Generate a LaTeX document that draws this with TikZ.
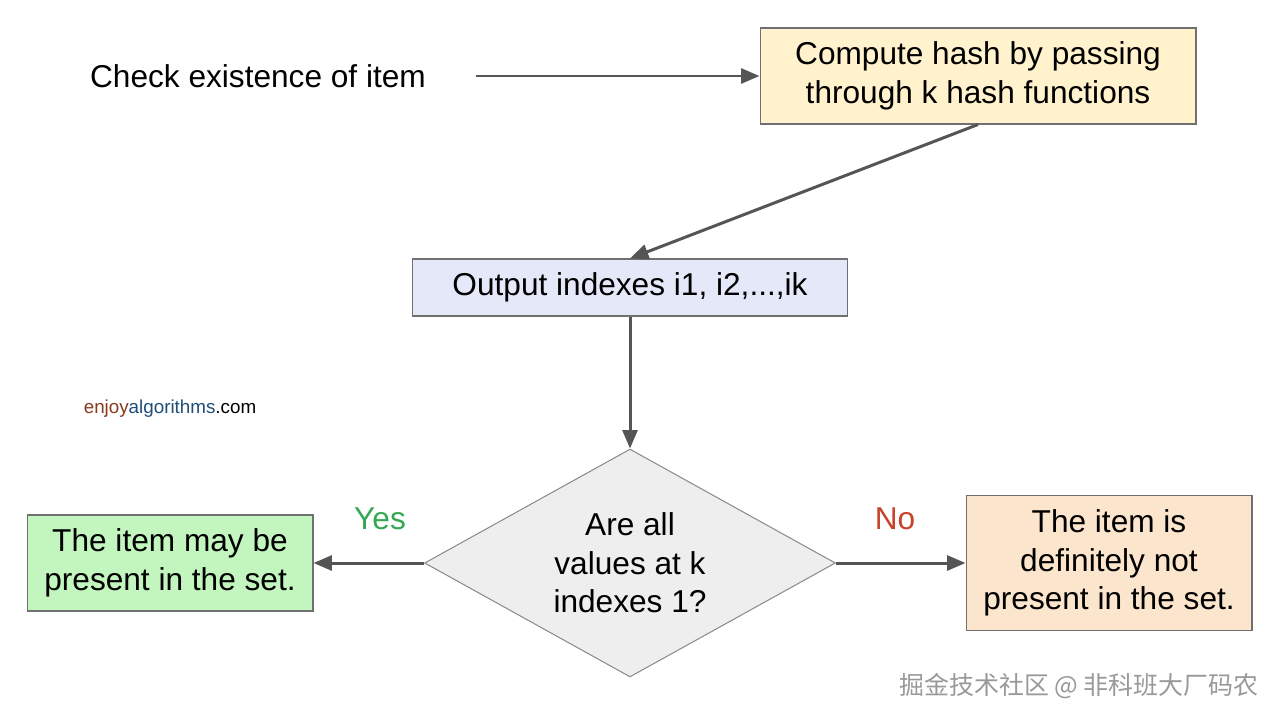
\documentclass[tikz,border=0pt]{standalone}
\usepackage{fontspec}
\setmainfont{Liberation Sans}
\newfontfamily\cjkfont{Noto Sans CJK SC}
\usepackage{tikz}
\usetikzlibrary{arrows.meta,shapes.geometric}
\definecolor{edgegray}{HTML}{555555}
\definecolor{boxline}{HTML}{707070}
\definecolor{hashfill}{HTML}{FFF2CC}
\definecolor{outfill}{HTML}{E4E8F8}
\definecolor{askfill}{HTML}{EEEEEE}
\definecolor{yesfill}{HTML}{C3F5BF}
\definecolor{nofill}{HTML}{FCE5CD}
\definecolor{yesgreen}{HTML}{34A853}
\definecolor{nored}{HTML}{C8432B}
\definecolor{enjoybrown}{HTML}{8B3A1E}
\definecolor{algoblue}{HTML}{1F4E79}

\begin{document}
\begin{tikzpicture}[x=0.02cm,y=-0.02cm,
  every node/.style={font=\fontsize{18}{22}\selectfont},
  flowbox/.style={draw=boxline,line width=0.6pt,inner sep=0pt,align=center},
  flowarrow/.style={draw=edgegray,line width=1.7pt,-{Triangle[length=10.5pt,width=8.5pt]}}]
\useasboundingbox[fill=white] (0,0) rectangle (1280,720);
% start
\node (check) at (258,76) {Check existence of item};
\coordinate (from) at (476,76);
% boxes
\node[flowbox,fill=hashfill,minimum width=8.72cm,minimum height=1.92cm] (hash) at (978,76)
  {Compute hash by passing\\through k hash functions};
\node[flowbox,fill=outfill,minimum width=8.72cm,minimum height=1.14cm] (out) at (630,287.5)
  {Output indexes i1, i2,...,ik};
\node[flowbox,diamond,aspect=1.8,draw=boxline!80,fill=askfill,minimum width=8.22cm,minimum height=4.56cm] (ask) at (630,563)
  {Are all\\values at k\\indexes 1?};
\node[flowbox,fill=yesfill,minimum width=5.72cm,minimum height=1.92cm] (yes) at (170,563)
  {The item may be\\present in the set.};
\node[flowbox,fill=nofill,minimum width=5.72cm,minimum height=2.7cm] (no) at (1109,563)
  {The item is\\definitely not\\present in the set.};
% arrows
\draw[flowarrow] (from) -- (hash);
\draw[flowarrow] (hash.south) -- (out.north);
\draw[flowarrow] (out) -- (ask);
\draw[flowarrow] (ask) -- (yes);
\draw[flowarrow] (ask) -- (no);
\node[text=yesgreen] (yeslabel) at (380,519) {Yes};
\node[text=nored] (nolabel) at (895,519) {No};
% marks
\node[font=\fontsize{10.7}{12}\selectfont] (site) at (170,409)
  {\textcolor{enjoybrown}{enjoy}\textcolor{algoblue}{algorithms}.com};
\node[font=\cjkfont\fontsize{14.2}{16}\selectfont,text=gray!80] (mark) at (1079,686)
  {掘金技术社区 @ 非科班大厂码农};
\end{tikzpicture}
\end{document}
